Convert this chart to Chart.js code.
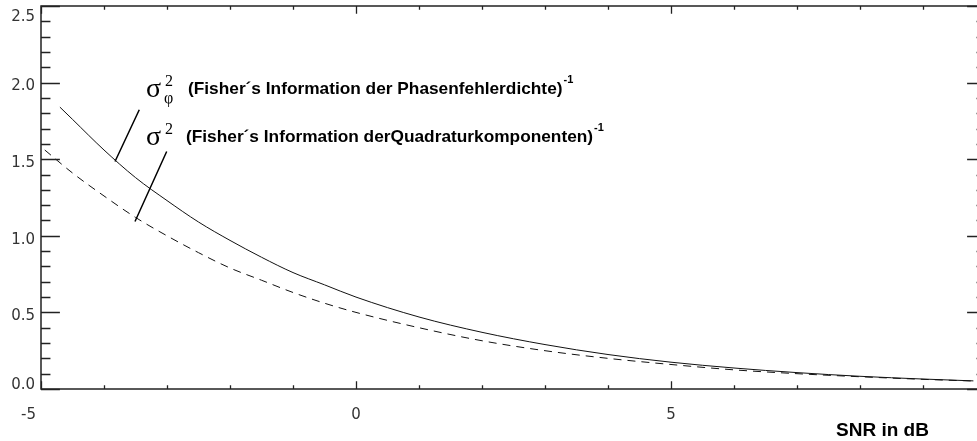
<!DOCTYPE html>
<html>
<head>
<meta charset="utf-8">
<script src="https://cdn.jsdelivr.net/npm/chart.js@4"></script>
<style>
  html, body { margin: 0; padding: 0; background: #fff; overflow: hidden; }
  #box { width: 990px; height: 441px; }
</style>
</head>
<body>
<div id="box"><canvas id="grafico" width="990" height="441"></canvas></div>
<script>
// SNR in dB
const snrPhase = [-4.7, -4.5, -4, -3.5, -3, -2.5, -2, -1.5, -1, -0.5, 0, 1, 2, 3, 4, 5, 6, 7, 8, 9, 9.8];
const varPhase = [1.84, 1.76, 1.56, 1.38, 1.23, 1.09, 0.97, 0.86, 0.76, 0.68, 0.60, 0.47, 0.37, 0.29, 0.225, 0.175, 0.137, 0.107, 0.083, 0.065, 0.053];

const snrQuad = [-4.94, -4.5, -4, -3.5, -3, -2.5, -2, -1.5, -1, -0.5, 0, 1, 2, 3, 4, 5, 6, 7, 8, 9, 9.8];
const varQuad = [1.56, 1.41, 1.26, 1.12, 1.0, 0.89, 0.79, 0.71, 0.63, 0.56, 0.50, 0.40, 0.315, 0.25, 0.20, 0.16, 0.125, 0.10, 0.08, 0.063, 0.052];

const xTicks = [-5, 0, 5];
const xTickLabels = ['-5', '0', '5'];
const xMinorTicks = [-4, -3, -2, -1, 1, 2, 3, 4, 6, 7, 8, 9];
const yTicks = [0, 0.5, 1.0, 1.5, 2.0, 2.5];
const yTickLabels = ['0.0', '0.5', '1.0', '1.5', '2.0', '2.5'];
const yMinorTicks = [0.1, 0.2, 0.3, 0.4, 0.6, 0.7, 0.8, 0.9, 1.1, 1.2, 1.3, 1.4, 1.6, 1.7, 1.8, 1.9, 2.1, 2.2, 2.3, 2.4];

const xTitle = 'SNR in dB';
const textPhase = '(Fisher\u00b4s Information der Phasenfehlerdichte)';
const textQuad = '(Fisher\u00b4s Information derQuadraturkomponenten)';

function pares(xs, ys) {
    return xs.map((x, i) => ({ x: x, y: ys[i] }));
}

// frame, inward ticks, labels and annotation like the IDL plot
const moldura = {
    id: 'moldura',
    afterDraw(chart) {
        const ctx = chart.ctx;
        const a = chart.chartArea;
        const sx = chart.scales.x;
        const sy = chart.scales.y;
        const w = a.right - a.left;
        const h = a.bottom - a.top;
        const lenY = 0.02 * w, lenX = 0.02 * h;

        ctx.save();
        ctx.strokeStyle = '#222';
        ctx.lineWidth = 1.5;
        ctx.strokeRect(a.left, a.top, w, h);

        ctx.lineWidth = 1.3;
        ctx.beginPath();
        yTicks.concat(yMinorTicks).forEach(v => {
            const l = yTicks.includes(v) ? lenY : lenY / 2;
            const py = Math.round(sy.getPixelForValue(v)) + 0.5;
            ctx.moveTo(a.left, py); ctx.lineTo(a.left + l, py);
            ctx.moveTo(a.right, py); ctx.lineTo(a.right - l, py);
        });
        xTicks.concat(xMinorTicks).forEach(v => {
            const l = xTicks.includes(v) ? lenX : lenX / 2;
            const px = Math.round(sx.getPixelForValue(v)) + 0.5;
            ctx.moveTo(px, a.bottom); ctx.lineTo(px, a.bottom - l);
            ctx.moveTo(px, a.top); ctx.lineTo(px, a.top + l);
        });
        ctx.stroke();

        ctx.fillStyle = '#333';
        ctx.font = '15px "DejaVu Sans"';
        ctx.textAlign = 'right';
        ctx.textBaseline = 'middle';
        yTicks.forEach((v, i) => {
            const py = Math.min(Math.max(sy.getPixelForValue(v) + 4, 17), 385);
            ctx.fillText(yTickLabels[i], a.left - 6, py);
        });
        xTicks.forEach((v, i) => {
            const txt = xTickLabels[i];
            const px = sx.getPixelForValue(v);
            if (txt.startsWith('-')) {
                ctx.textAlign = 'right';
                ctx.fillText(txt, px - 5, 415);
            } else {
                ctx.textAlign = 'center';
                ctx.fillText(txt, px, 415);
            }
        });

        ctx.fillStyle = '#000';
        ctx.textAlign = 'left';
        ctx.textBaseline = 'alphabetic';
        ctx.font = 'bold 19px "Liberation Sans", Arial';
        ctx.fillText(xTitle, 836, 436);

        // annotations
        ctx.font = '28px "Liberation Serif"';
        ctx.fillText('\u03c3', 146, 97);
        ctx.fillText('\u03c3', 146, 145);
        ctx.font = '16px "Liberation Serif"';
        ctx.fillText('2', 165, 86);
        ctx.fillText('\u03c6', 164, 103);
        ctx.fillText('2', 165, 134);

        ctx.font = 'bold 17.3px "Liberation Sans", Arial';
        ctx.fillText(textPhase, 188, 94);
        const w1 = ctx.measureText(textPhase).width;
        ctx.fillText(textQuad, 186, 142);
        const w2 = ctx.measureText(textQuad).width;
        ctx.font = 'bold 11px "Liberation Sans", Arial';
        ctx.fillText('-1', 188 + w1 + 1, 83);
        ctx.fillText('-1', 186 + w2 + 1, 131);

        ctx.strokeStyle = '#000';
        ctx.lineWidth = 1.5;
        ctx.beginPath();
        ctx.moveTo(sx.getPixelForValue(-3.44), sy.getPixelForValue(1.823));
        ctx.lineTo(sx.getPixelForValue(-3.825), sy.getPixelForValue(1.485));
        ctx.moveTo(sx.getPixelForValue(-3.005), sy.getPixelForValue(1.55));
        ctx.lineTo(sx.getPixelForValue(-3.508), sy.getPixelForValue(1.093));
        ctx.stroke();
        ctx.restore();
    }
};

const grafico = new Chart(document.getElementById('grafico'), {
    type: 'line',
    data: {
        datasets: [{
            label: 'phase',
            data: pares(snrPhase, varPhase),
            borderColor: '#111',
            borderWidth: 1,
            pointRadius: 0,
            cubicInterpolationMode: 'monotone'
        }, {
            label: 'quad',
            data: pares(snrQuad, varQuad),
            borderColor: '#111',
            borderWidth: 1,
            borderDash: [8, 6],
            pointRadius: 0,
            cubicInterpolationMode: 'monotone'
        }]
    },
    options: {
        responsive: false,
        animation: false,
        devicePixelRatio: 1,
        layout: { padding: { left: 41, top: 6, right: 4, bottom: 52 } },
        plugins: { legend: { display: false }, tooltip: { enabled: false } },
        scales: {
            x: { type: 'linear', min: -5, max: 10, display: false },
            y: { type: 'linear', min: 0, max: 2.5, display: false }
        }
    },
    plugins: [moldura]
});
</script>
</body>
</html>
